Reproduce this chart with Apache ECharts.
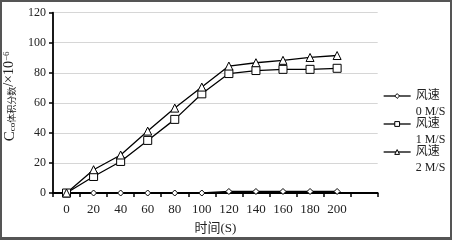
<!DOCTYPE html>
<html>
<head>
<meta charset="utf-8">
<script src="https://cdn.jsdelivr.net/npm/echarts@6/dist/echarts.min.js"></script>
<style>
  html, body { margin: 0; padding: 0; background: #fff; }
  #wrap { position: relative; width: 452px; height: 240px; }
  #chart { width: 452px; height: 240px; }
  #frame { position: absolute; left: 0; top: 0; width: 452px; height: 240px; box-sizing: border-box;
           border: 2px solid #555; border-bottom-width: 3px; pointer-events: none; }
</style>
</head>
<body>
<div id="wrap">
  <div id="chart"></div>
  <div id="frame"></div>
</div>
<script>
// 时间(S), last slot is an empty category like in the original
var times = ['0', '20', '40', '60', '80', '100', '120', '140', '160', '180', '200', ''];
var wind0 = [0, 0, 0, 0, 0, 0, 1, 1, 1, 1, 1, null];
var wind1 = [0, 11, 21, 35, 49, 66, 79.5, 81.5, 82.3, 82.3, 83, null];
var wind2 = [0, 15.5, 25.3, 41.2, 56.5, 70.5, 84.5, 86.7, 88.3, 90.2, 91.5, null];
var seriesNames = ['风速\n0 M/S', '风速\n1 M/S', '风速\n2 M/S'];

var serif = '"Liberation Serif", "Noto Sans CJK SC", serif';

var chart = echarts.init(document.getElementById('chart'));

function lineSeries(name, data, symbol, size) {
    return {
        name: name,
        type: 'line',
        data: data,
        symbol: symbol,
        symbolSize: size,
        connectNulls: false,
        lineStyle: { color: '#000', width: 1.3 },
        itemStyle: { color: '#fff', borderColor: '#000', borderWidth: 1 },
        emphasis: { disabled: true }
    };
}

var option = {
    animation: false,
    backgroundColor: '#fff',
    textStyle: { fontFamily: serif },
    grid: { left: 53, right: 74.3, top: 12.7, bottom: 47, outerBoundsMode: 'none' },
    legend: {
        orient: 'vertical',
        left: 383,
        top: 72,
        padding: 0,
        itemGap: -20,
        itemWidth: 27,
        itemHeight: 6,
        data: seriesNames,
        itemStyle: { color: '#fff', borderColor: '#000', borderWidth: 1 },
        lineStyle: { color: '#000', width: 1.3 },
        formatter: function (name) {
            return '\n' + name;   // keeps first line level with the icon
        },
        textStyle: {
            fontFamily: serif, fontSize: 12, color: '#222', lineHeight: 16
        }
    },
    xAxis: {
        type: 'category',
        data: times,
        boundaryGap: true,
        name: '时间(S)',
        nameLocation: 'middle',
        nameGap: 29,
        nameTextStyle: { fontFamily: serif, fontSize: 13, color: '#222' },
        axisLine: { lineStyle: { color: '#000', width: 1.8 } },
        axisTick: { show: true, length: 4, lineStyle: { color: '#000', width: 1.5 } },
        axisLabel: { fontFamily: serif, fontSize: 13, color: '#222', margin: 10 },
        splitLine: { show: false }
    },
    yAxis: {
        type: 'value',
        min: 0,
        max: 120,
        interval: 20,
        name: '{c|C}{s|co体积分数}{n|/×10}{p|−6}',
        nameLocation: 'middle',
        nameRotate: 90,
        nameGap: 17,
        nameTextStyle: {
            padding: [0, 0, 0, 13],
            rich: {
                c: { fontFamily: serif, fontSize: 15, color: '#222' },
                s: { fontFamily: serif, fontSize: 9, color: '#222', verticalAlign: 'bottom' },
                n: { fontFamily: serif, fontSize: 14, color: '#222' },
                p: { fontFamily: serif, fontSize: 9, color: '#222', verticalAlign: 'top' }
            }
        },
        axisLine: { show: true, lineStyle: { color: '#000', width: 1.8 } },
        axisTick: { show: true, length: 4, lineStyle: { color: '#000', width: 1.5 } },
        axisLabel: { fontFamily: serif, fontSize: 12, color: '#222', margin: 7 },
        splitLine: { show: true, lineStyle: { color: '#d6d6d6', width: 1 } }
    },
    series: [
        lineSeries(seriesNames[0], wind0, 'diamond', [6, 6]),
        lineSeries(seriesNames[1], wind1, 'rect', 8),
        lineSeries(seriesNames[2], wind2, 'triangle', 8)
    ]
};

chart.setOption(option, true);
window.onresize = function () {
    chart.resize();
};
</script>
</body>
</html>
